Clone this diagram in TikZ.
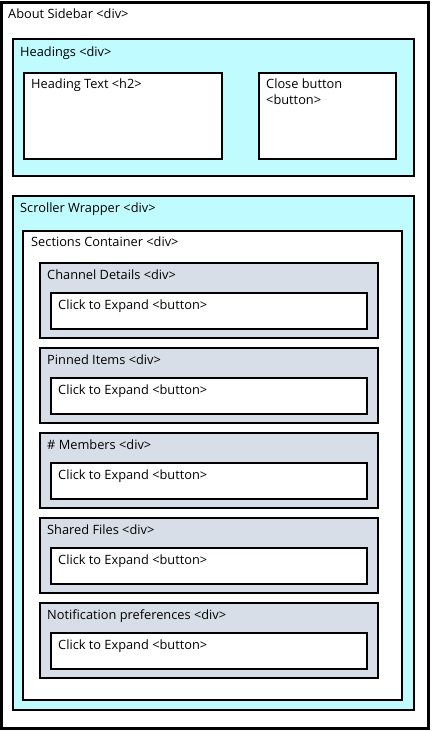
\documentclass[tikz,border=0pt]{standalone}
\usepackage{fontspec}
\setmainfont{Open Sans}
\usepackage{tikz}
\definecolor{wrap}{RGB}{192,252,255}
\definecolor{sect}{RGB}{216,222,232}
\tikzset{
  box/.style={draw=black, line width=2.3pt},
  lbl/.style={anchor=base west, inner sep=0pt, font=\fontsize{12.8}{15}\selectfont}
}
\newcommand{\drawbox}[5]{\draw[box,fill=#1] (#2,#3) rectangle (#4,#5);}
\newcommand{\expandsection}[3]{
    \drawbox{sect}{40}{#2}{378}{#2+75}
    \node[lbl] (#1) at (47,#2+16) {#3 <div>};
    \drawbox{white}{51}{#2+30}{367}{#2+66}
    \node[lbl] (#1btn) at (58,#2+46) {Click to Expand <button>};
}

\begin{document}
\begin{tikzpicture}[x=1pt,y=-1pt]
\useasboundingbox (0,0) rectangle (432,731);
\drawbox{white}{1.5}{2.5}{428.5}{728.5}
\node[lbl] (sidebar) at (8,18) {About Sidebar <div>};
    \drawbox{wrap}{13}{39}{414}{176}
    \node[lbl] (headings) at (20,56) {Headings <div>};
    \drawbox{white}{24}{73}{222}{159}
    \node[lbl] (headtext) at (31,88) {Heading Text <h2>};
    \drawbox{white}{259}{73}{396}{159}
    \node[lbl] (close) at (266,88) {Close button};
    \node[lbl] (closetag) at (266,104) {<button>};
    \drawbox{wrap}{13}{196}{414}{710}
    \node[lbl] (scroller) at (20,212) {Scroller Wrapper <div>};
    \drawbox{white}{23}{231}{402}{700}
    \node[lbl] (container) at (31,246) {Sections Container <div>};
\expandsection{channel}{263}{Channel Details}
\expandsection{pinned}{348}{Pinned Items}
\expandsection{members}{433}{\# Members}
\expandsection{files}{518}{Shared Files}
\expandsection{notify}{603}{Notification preferences}
\end{tikzpicture}
\end{document}
